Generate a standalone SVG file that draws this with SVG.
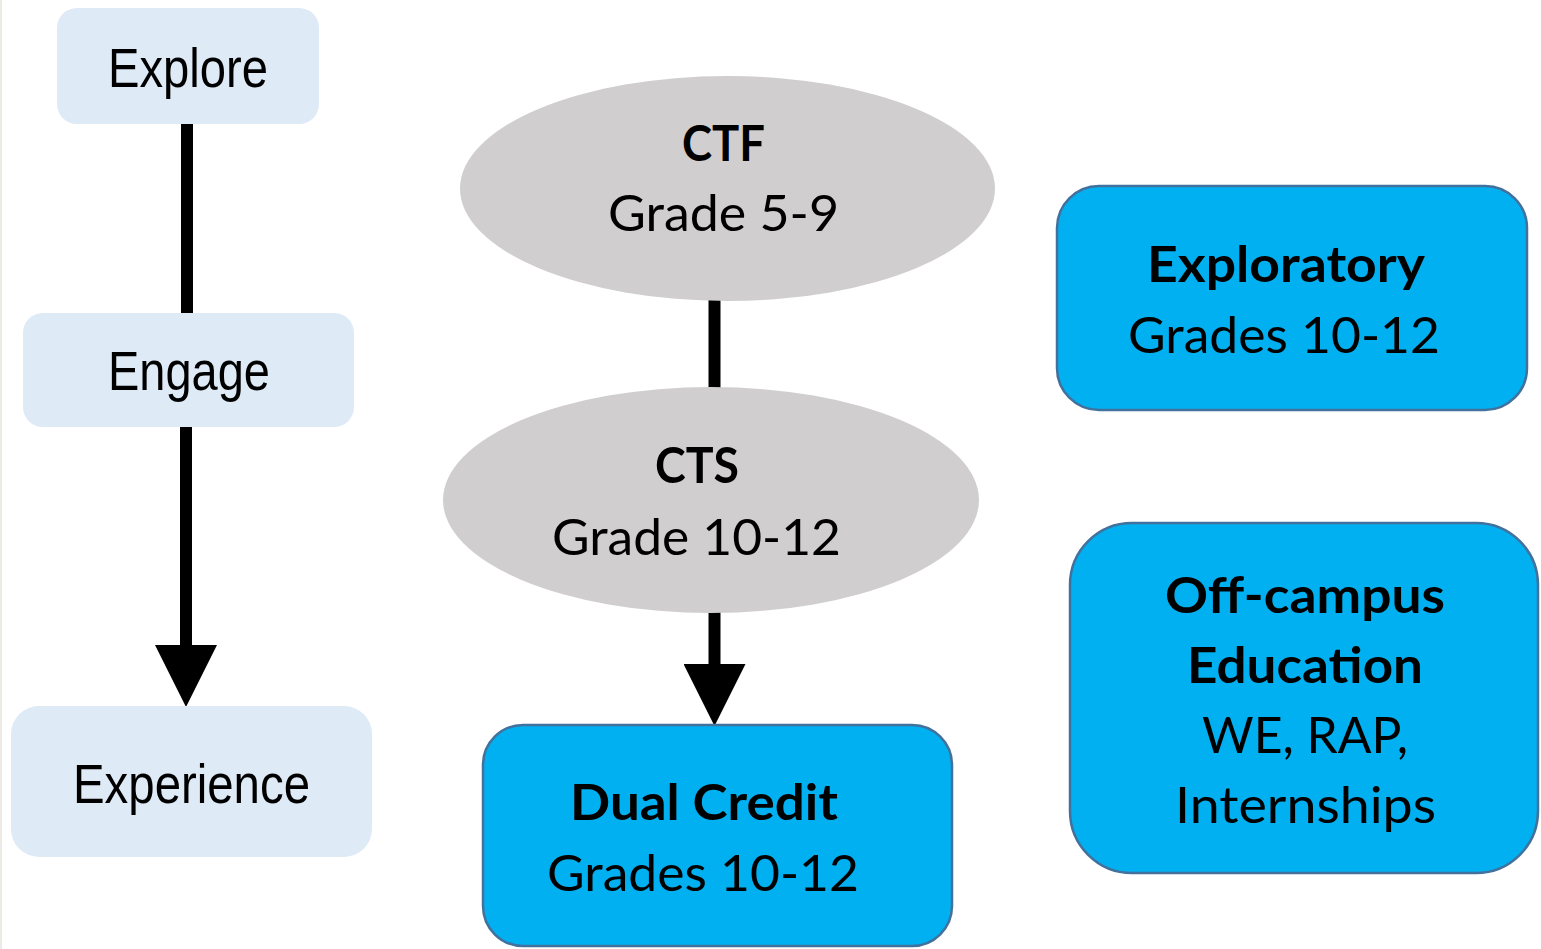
<svg xmlns="http://www.w3.org/2000/svg" width="1541" height="949" viewBox="0 0 1541 949">
  <style>
    .lbox { fill: #DEEAF6; }
    .ltxt { font-family: "Liberation Sans", Arial, sans-serif; font-size: 56px; fill: #000; text-anchor: middle; }
    .ell { fill: #D0CECF; }
    .cbox { fill: #00B0F0; stroke: #41719C; stroke-width: 2.5; }
    .t { font-family: Lato, "Open Sans", sans-serif; font-size: 50px; fill: #000; text-anchor: middle; }
    .b { font-weight: bold; }
    .conn { stroke: #000; stroke-width: 12; fill: none; }
  </style>
  <defs>
    <marker id="arrow" markerUnits="userSpaceOnUse" markerWidth="62" markerHeight="62" refX="0" refY="31" orient="auto" viewBox="0 0 62 62">
      <path d="M0,0 L62,31 L0,62 Z" fill="#000"/>
    </marker>
  </defs>
  <rect width="1541" height="949" fill="#FFFFFF"/>
  <rect x="0" y="0" width="2" height="949" fill="#EDE9E4"/>

  <g id="connectors">
    <line class="conn" x1="187" y1="124" x2="187" y2="313"/>
    <line class="conn" x1="186" y1="427" x2="186" y2="645" marker-end="url(#arrow)"/>
    <line class="conn" x1="714.5" y1="300" x2="714.5" y2="389"/>
    <line class="conn" x1="714.5" y1="612" x2="714.5" y2="664" marker-end="url(#arrow)"/>
  </g>

  <g id="explore">
    <rect class="lbox" x="57" y="8" width="262" height="116" rx="20"/>
    <text class="ltxt" x="188" y="87" textLength="160" lengthAdjust="spacingAndGlyphs">Explore</text>
  </g>
  <g id="engage">
    <rect class="lbox" x="23" y="313" width="331" height="114" rx="20"/>
    <text class="ltxt" x="189" y="390" textLength="162" lengthAdjust="spacingAndGlyphs">Engage</text>
  </g>
  <g id="experience">
    <rect class="lbox" x="11" y="706" width="361" height="151" rx="28"/>
    <text class="ltxt" x="191.5" y="803" textLength="237" lengthAdjust="spacingAndGlyphs">Experience</text>
  </g>

  <g id="ctf">
    <ellipse class="ell" cx="727.5" cy="188.5" rx="267.5" ry="112.5"/>
    <text class="t b" x="723.5" y="161" textLength="83" lengthAdjust="spacingAndGlyphs">CTF</text>
    <text class="t" x="723.5" y="231" textLength="231" lengthAdjust="spacingAndGlyphs">Grade 5-9</text>
  </g>
  <g id="cts">
    <ellipse class="ell" cx="711" cy="500" rx="268" ry="113"/>
    <text class="t b" x="697" y="483" textLength="84" lengthAdjust="spacingAndGlyphs">CTS</text>
    <text class="t" x="696.5" y="555" textLength="289" lengthAdjust="spacingAndGlyphs">Grade 10-12</text>
  </g>
  <g id="dual-credit">
    <rect class="cbox" x="483" y="725" width="469" height="221" rx="40"/>
    <text class="t b" x="704" y="820" textLength="268" lengthAdjust="spacingAndGlyphs">Dual Credit</text>
    <text class="t" x="703" y="891" textLength="312" lengthAdjust="spacingAndGlyphs">Grades 10-12</text>
  </g>
  <g id="exploratory">
    <rect class="cbox" x="1057" y="186" width="470" height="224" rx="42"/>
    <text class="t b" x="1286" y="282" textLength="278" lengthAdjust="spacingAndGlyphs">Exploratory</text>
    <text class="t" x="1284" y="353" textLength="312" lengthAdjust="spacingAndGlyphs">Grades 10-12</text>
  </g>
  <g id="off-campus">
    <rect class="cbox" x="1070" y="523" width="468" height="350" rx="62"/>
    <text class="t b" x="1305" y="613" textLength="280" lengthAdjust="spacingAndGlyphs">Off-campus</text>
    <text class="t b" x="1305" y="683" textLength="236" lengthAdjust="spacingAndGlyphs">Education</text>
    <text class="t" x="1305" y="753" textLength="206" lengthAdjust="spacingAndGlyphs">WE, RAP,</text>
    <text class="t" x="1305.5" y="823" textLength="261" lengthAdjust="spacingAndGlyphs">Internships</text>
  </g>
</svg>
